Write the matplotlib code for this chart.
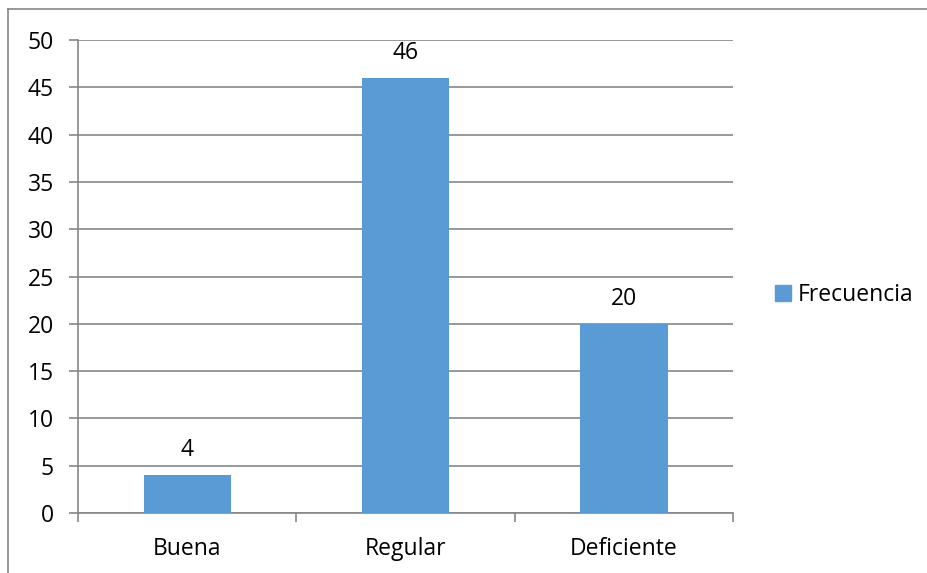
import matplotlib
matplotlib.use('Agg')
import matplotlib.pyplot as plt
from matplotlib.lines import Line2D
import numpy as np

categories = ['Buena', 'Regular', 'Deficiente']
frecuencia = [4, 46, 20]
y_ticks = [0, 5, 10, 15, 20, 25, 30, 35, 40, 45, 50]

BAR_COLOR = '#5B9BD5'
GRID_COLOR = '#868686'
W, H = 927, 573
FS = 16.5

plt.rcParams['font.family'] = ['Open Sans', 'DejaVu Sans']

fig = plt.figure(figsize=(W / 100, H / 100), dpi=100)
fig.patch.set_facecolor('white')

# outer chart border (top and left visible)
fig.add_artist(Line2D([8 / W, 1], [1 - 9 / H, 1 - 9 / H], color=GRID_COLOR, lw=1.2))
fig.add_artist(Line2D([8 / W, 8 / W], [0, 1 - 9 / H], color=GRID_COLOR, lw=1.2))

ax = fig.add_axes([78 / W, (H - 513) / H, 655 / W, 473 / H])

x = np.arange(len(categories))
ax.bar(x, frecuencia, width=0.4, color=BAR_COLOR, zorder=3)
for xi, v in zip(x, frecuencia):
    ax.text(xi, v + 1.4, str(v), ha='center', va='bottom', fontsize=FS, color='black')

ax.set_xlim(-0.5, len(categories) - 0.5)
ax.set_ylim(0, 50)
ax.set_yticks(y_ticks)
ax.yaxis.grid(True, color=GRID_COLOR, lw=1.2, zorder=0)
ax.set_axisbelow(True)

ax.set_xticks(x)
ax.set_xticklabels(categories, fontsize=FS)
ax.tick_params(axis='x', length=0, pad=17)
# category boundary ticks
ax.set_xticks(np.arange(-0.5, len(categories)), minor=True)
ax.tick_params(axis='x', which='minor', length=6.5, color=GRID_COLOR, width=1.2, direction='out')
ax.tick_params(axis='y', length=6.5, color=GRID_COLOR, width=1.2, labelsize=FS, pad=11)

for s in ['top', 'right']:
    ax.spines[s].set_visible(False)
for s in ['left', 'bottom']:
    ax.spines[s].set_color(GRID_COLOR)
    ax.spines[s].set_linewidth(1.2)

handle = plt.Rectangle((0, 0), 1, 1, color=BAR_COLOR)
fig.legend([handle], ['Frecuencia'], loc='center left',
           bbox_to_anchor=(757 / W, 1 - 295 / H), frameon=False,
           fontsize=FS, handlelength=0.7, handleheight=0.7, handletextpad=0.3,
           borderpad=0.3)

fig.savefig('out.png', dpi=100, facecolor='white')
